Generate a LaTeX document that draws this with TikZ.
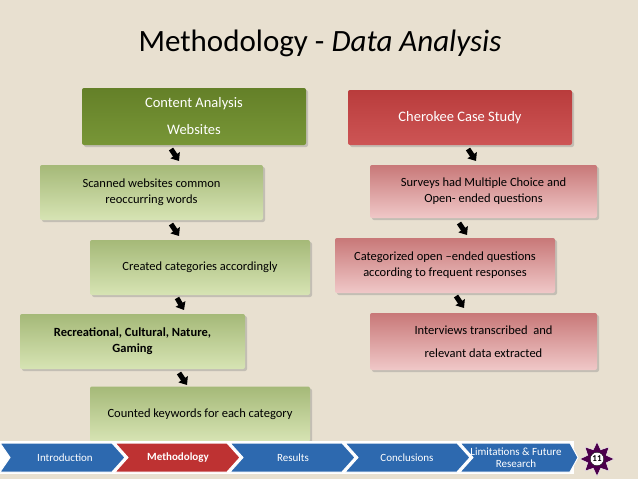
\documentclass[tikz,border=0pt]{standalone}
\usepackage{fontspec}
\setmainfont{Carlito}
\usetikzlibrary{shadows,arrows.meta,shapes.geometric}
\definecolor{bg}{RGB}{232,224,208}
\definecolor{dkgreen}{RGB}{100,128,40}
\definecolor{dkgreen2}{RGB}{120,150,55}
\definecolor{ltgreenT}{RGB}{165,185,120}
\definecolor{ltgreenB}{RGB}{215,228,180}
\definecolor{dkred}{RGB}{185,60,60}
\definecolor{dkred2}{RGB}{205,85,85}
\definecolor{ltredT}{RGB}{200,120,120}
\definecolor{ltredB}{RGB}{240,200,200}
\definecolor{navblue}{RGB}{45,105,175}
\definecolor{navred}{RGB}{190,50,50}
\tikzset{
 box/.style={rectangle,rounded corners=2pt,minimum width=#1,minimum height=55pt,drop shadow={shadow xshift=2pt,shadow yshift=-2pt,opacity=0.35},font=\fontsize{12.5}{16}\selectfont,align=center},
 dkg/.style={box=224pt,top color=dkgreen,bottom color=dkgreen2,text=white,font=\fontsize{14.5}{27}\selectfont},
 ltg/.style={box=#1,top color=ltgreenT,bottom color=ltgreenB,text=black},
 dkr/.style={box=224pt,top color=dkred,bottom color=dkred2,text=white,font=\fontsize{14.5}{16}\selectfont},
 ltr/.style={box=#1,top color=ltredT,bottom color=ltredB,text=black},
 arr/.style={-{Triangle[length=7pt,width=11pt]},line width=5pt,black},
 nav/.style={draw=white,line width=1pt,fill=navblue,text=white},
}
\begin{document}
\begin{tikzpicture}[x=1pt,y=-1pt]
\fill[bg] (0,0) rectangle (638,479);
\useasboundingbox (0,0) rectangle (638,479);
\node[font=\fontsize{31}{33}\selectfont] (title) at (320,43) {Methodology - \textit{Data Analysis}};
% left column
\node[dkg,minimum height=57pt] (ca) at (194,116.5) {Content Analysis\\Websites};
\node[ltg=223pt] (sc) at (151.5,192.5) {Scanned websites common\\reoccurring words};
\node[ltg=220pt] (cr) at (200,267.5) {Created categories accordingly};
\node[ltg=225pt,font=\fontsize{12.5}{16}\selectfont\bfseries] (re) at (132.5,341.5) {Recreational, Cultural, Nature,\\Gaming};
\node[ltg=220pt] (co) at (200,414) {Counted keywords for each category};
% right column
\node[dkr] (ch) at (460,117.5) {Cherokee Case Study};
\node[ltr=227pt,minimum height=53pt] (su) at (483.5,191.5) {Surveys had Multiple Choice and\\Open- ended questions};
\node[ltr=220pt] (cat) at (445,265.5) {Categorized open –ended questions\\according to frequent responses};
\node[ltr=227pt,minimum height=57pt,font=\fontsize{12.5}{23}\selectfont] (iv) at (483.5,341.5) {Interviews transcribed \ and\\relevant data extracted};
% arrows
\coordinate (a1) at (171,149); \coordinate (b1) at (179,161);
\coordinate (a2) at (171,224); \coordinate (b2) at (179,236);
\coordinate (a3) at (177,298); \coordinate (b3) at (184,310);
\coordinate (a4) at (179,373); \coordinate (b4) at (187,385);
\coordinate (a5) at (468,149); \coordinate (b5) at (476,161);
\coordinate (a6) at (459,223); \coordinate (b6) at (467,235);
\coordinate (a7) at (456,296); \coordinate (b7) at (464,308);
\foreach \i in {1,...,7} \draw[arr] (a\i) -- (b\i);
% nav bar
\fill[white] (0,441) rectangle (574,474);
\path[nav] (0,443) -- (112,443) -- (125,457.5) -- (112,472) -- (0,472) -- (10,457.5) -- cycle;
\path[nav,fill=navred] (115,443) -- (227,443) -- (240,457.5) -- (227,472) -- (115,472) -- (128,457.5) -- cycle;
\path[nav] (230,443) -- (342,443) -- (355,457.5) -- (342,472) -- (230,472) -- (243,457.5) -- cycle;
\path[nav] (345,443) -- (457,443) -- (470,457.5) -- (457,472) -- (345,472) -- (358,457.5) -- cycle;
\path[nav] (460,443) -- (570,443) -- (578,457.5) -- (570,472) -- (460,472) -- (473,457.5) -- cycle;
\node[text=white,font=\fontsize{11}{12}\selectfont] (n1) at (65,458) {Introduction};
\node[text=white,font=\fontsize{11}{12}\selectfont\bfseries] (n2) at (178,458) {Methodology};
\node[text=white,font=\fontsize{11}{12}\selectfont] (n3) at (293,458) {Results};
\node[text=white,font=\fontsize{11}{12}\selectfont] (n4) at (407,458) {Conclusions};
\node[text=white,font=\fontsize{11}{12}\selectfont,align=center] (n5) at (516,458) {Limitations \& Future\\Research};
\node[star,star points=8,star point ratio=1.7,minimum size=34pt,fill=violet!60!black,draw=white,inner sep=0pt] (st) at (597,459) {};
\node[circle,fill=white,draw=black,inner sep=1pt,font=\fontsize{9}{9}\selectfont\bfseries] (pg) at (597,459) {11};
\end{tikzpicture}
\end{document}
